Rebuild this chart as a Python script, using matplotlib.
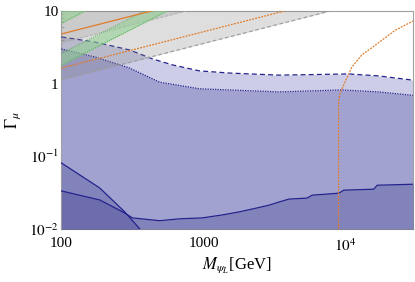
import numpy as np
import matplotlib
matplotlib.use('Agg')
import matplotlib.pyplot as plt

plt.rcParams['font.family'] = ['Liberation Serif', 'DejaVu Serif']
plt.rcParams['mathtext.fontset'] = 'stix'

# values
# upper (dashed) and lower (dotted) edges of the light blue regions
mass_dashed = [100, 172, 302, 438, 606, 935, 1520, 3400, 10500, 17000, 29500, 30000]
gamma_dashed = [4.39, 3.74, 2.91, 2.19, 1.81, 1.50, 1.40, 1.31, 1.36, 1.28, 1.12, 1.11]
mass_dotted = [100, 172, 302, 490, 935, 3400, 9400, 17000, 30000]
gamma_dotted = [3.0, 2.33, 1.64, 1.05, 0.85, 0.77, 0.82, 0.77, 0.69]

# darker regions at the bottom
mass_a = [100, 186, 279, 365]
gamma_a = [0.081, 0.0367, 0.0172, 0.0095]
mass_b = [100, 186, 270, 317, 490, 679, 980, 1355, 1785, 2200, 2900, 3400, 4000,
          5350, 5830, 8980, 9700, 15800, 16700, 30000]
gamma_b = [0.0334, 0.0251, 0.0172, 0.0142, 0.0130, 0.0138, 0.0142, 0.0156, 0.0172,
           0.0188, 0.0213, 0.0235, 0.0258, 0.0266, 0.0292, 0.0311, 0.0342, 0.0353,
           0.0400, 0.0413]

# grey bands (lower edges), green bands, orange lines
mass_ends = [100, 30000]
gamma_grey1 = [3.65, 63.2]
gamma_grey2 = [1.13, 19.6]
mass_green = [100, 1000]
green1_lo = [6.8, 68.0]
green1_hi = [9.9, 99.0]
green2_lo = [1.8, 18.0]
green2_hi = [2.6, 26.0]
gamma_orange1 = [4.83, 83.7]
gamma_orange2 = [1.64, 28.4]
mass_orange3 = [8930, 8930, 8950, 9230, 9700, 11100, 13000, 15400, 22500, 30000]
gamma_orange3 = [0.01, 0.3, 0.6, 0.77, 0.96, 1.70, 2.48, 3.15, 5.48, 7.3]

fig = plt.figure(figsize=(4.15, 2.82), dpi=100)
ax = fig.add_axes([0.148, 0.188, 0.848, 0.773])
ax.set_xscale('log')
ax.set_yscale('log')

navy = '#23238c'
ax.fill_between(mass_dashed, gamma_dashed, 1e-3, color='#cdcde7', lw=0, zorder=1)
ax.fill_between(mass_dotted, gamma_dotted, 1e-3, color='#a2a2d1', lw=0, zorder=2)
ax.fill_between(mass_a, gamma_a, 1e-3, color=(0.24, 0.24, 0.55), alpha=0.3, lw=0, zorder=3)
ax.fill_between(mass_b, gamma_b, 1e-3, color=(0.24, 0.24, 0.55), alpha=0.3, lw=0, zorder=3)
ax.plot(mass_dashed, gamma_dashed, color=navy, lw=0.9, ls=(0, (4, 2.5)), zorder=4)
ax.plot(mass_dotted, gamma_dotted, color=navy, lw=0.9, ls=(0, (1, 1)), zorder=4)
ax.plot(mass_a, gamma_a, color=navy, lw=0.9, zorder=4)
ax.plot(mass_b, gamma_b, color=navy, lw=0.9, zorder=4)

# grey regions
ax.fill_between(mass_ends, gamma_grey2, 1e3, color='#808080', alpha=0.26, lw=0, zorder=5)
ax.fill_between(mass_ends, gamma_grey1, 1e3, color='#808080', alpha=0.2, lw=0, zorder=5)
ax.plot(mass_ends, gamma_grey2, color='#a0a0a0', lw=0.9, ls=(0, (3, 2)), zorder=5)
ax.plot(mass_ends, gamma_grey1, color='#b0b0b0', lw=0.7, ls=(0, (3, 2)), zorder=5)

# green bands
for lo, hi in [(green1_lo, green1_hi), (green2_lo, green2_hi)]:
    ax.fill_between(mass_green, lo, hi, color='#8fd18f', alpha=0.55, lw=0, zorder=6)
    ax.plot(mass_green, lo, color='#5cb85c', lw=0.8, ls=(0, (1, 1)), zorder=6)
    ax.plot(mass_green, hi, color='#5cb85c', lw=0.8, ls=(0, (1, 1)), zorder=6)

# orange lines
orange = '#e07b28'
ax.plot(mass_ends, gamma_orange1, color=orange, lw=0.9, zorder=7)
ax.plot(mass_ends, gamma_orange2, color=orange, lw=0.9, ls=(0, (1.5, 1)), zorder=7)
ax.plot(mass_orange3, gamma_orange3, color=orange, lw=0.9, ls=(0, (1.5, 1)), zorder=7)

ax.set_xlim(100, 30000)
ax.set_ylim(0.01, 10)
ax.set_xticks([100, 1000, 10000])
ax.set_xticklabels(['100', '1000', r'$10^4$'])
ax.set_yticks([0.01, 0.1, 1, 10])
ax.set_yticklabels([r'$10^{-2}$', r'$10^{-1}$', '1', '10'])
ax.tick_params(which='both', direction='in', color='#999999', labelsize=11)
ax.tick_params(axis='x', pad=6)
ax.tick_params(axis='y', pad=2)
ax.tick_params(which='major', length=4)
ax.tick_params(which='minor', length=2)
for s in ax.spines.values():
    s.set_color('#a0a0a0')
    s.set_linewidth(0.8)

ax.set_xlabel(r'$M_{\psi_L}$[GeV]', fontsize=12, labelpad=1)
ax.set_ylabel(r'$\Gamma_\mu$', fontsize=12, labelpad=4)

fig.savefig('out.png', dpi=100)
